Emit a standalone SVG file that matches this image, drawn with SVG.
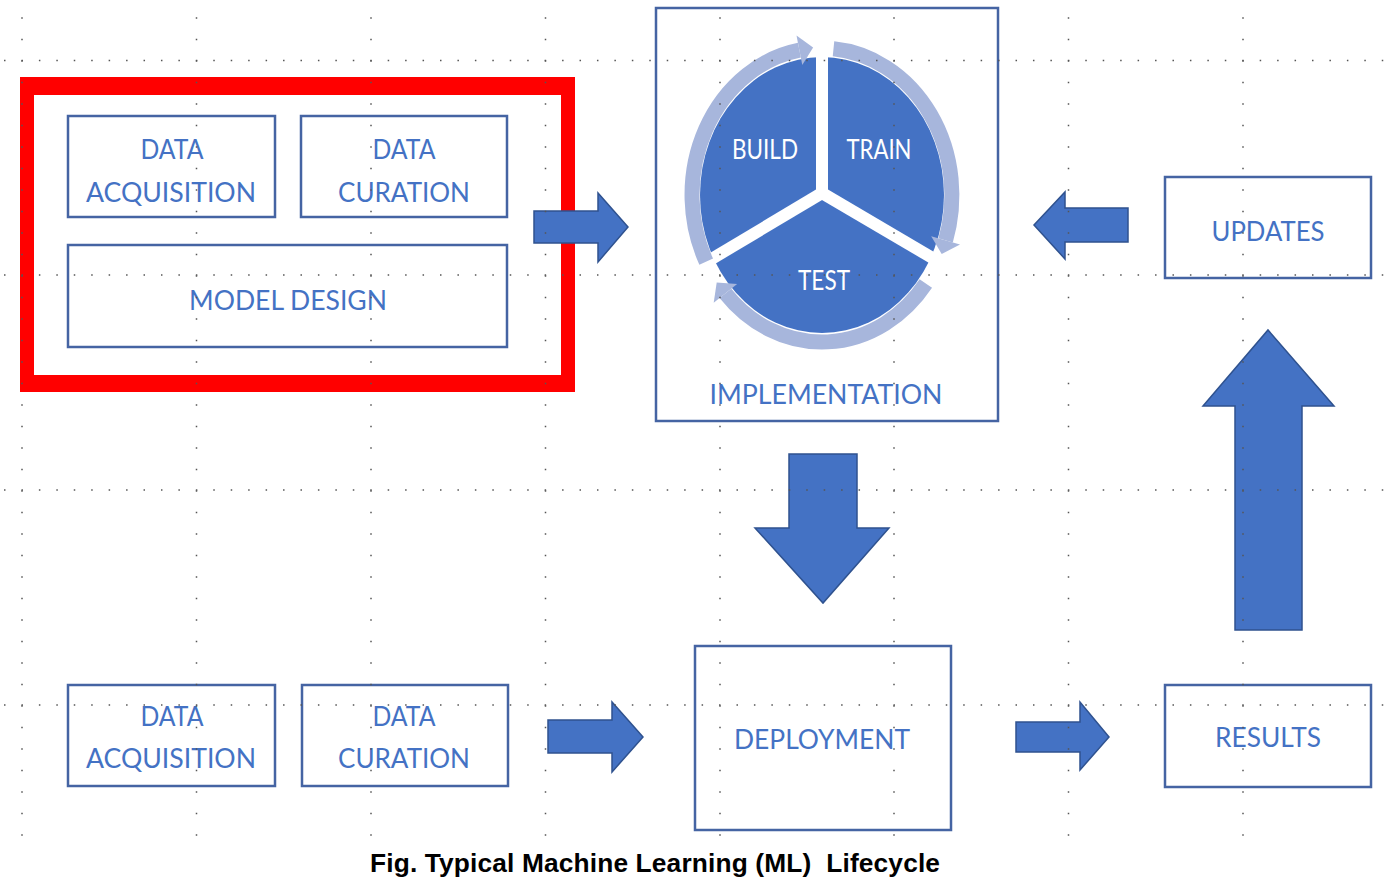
<svg xmlns="http://www.w3.org/2000/svg" width="1386" height="885" viewBox="0 0 1386 885">
<defs>
<style>
.box{fill:none;stroke:#4564a3;stroke-width:2.5}
.lbl{font-family:Lato,"Open Sans",sans-serif;font-size:27px;fill:#4472c4;text-anchor:middle}
.wl{font-family:Lato,"Open Sans",sans-serif;font-size:27px;fill:#ffffff;text-anchor:middle}
.blk{fill:#4472c4;stroke:#2f528f;stroke-width:1.5;stroke-linejoin:miter}
.ring{fill:none;stroke:#a7b6dc;stroke-width:15}
.ringhead{fill:#a7b6dc}
.gv{stroke:#555;stroke-width:1.5;stroke-dasharray:1.5 20}
.gh{stroke:#555;stroke-width:1.5;stroke-dasharray:1.5 15.94}
</style>
</defs>
<rect width="1386" height="885" fill="#ffffff"/>

<g id="highlight">
<path d="M20,77 H575 V392 H20 Z M34,95 V375 H561 V95 Z" fill="#ff0000" fill-rule="evenodd"/>
</g>

<g id="data-acquisition-top">
<rect class="box" x="68" y="116" width="207" height="101"/>
<text class="lbl" x="172" y="159" textLength="63" lengthAdjust="spacingAndGlyphs">DATA</text>
<text class="lbl" x="171" y="202" textLength="170" lengthAdjust="spacingAndGlyphs">ACQUISITION</text>
</g>
<g id="data-curation-top">
<rect class="box" x="301" y="116" width="206" height="101"/>
<text class="lbl" x="404" y="159" textLength="63" lengthAdjust="spacingAndGlyphs">DATA</text>
<text class="lbl" x="404" y="202" textLength="132" lengthAdjust="spacingAndGlyphs">CURATION</text>
</g>
<g id="model-design">
<rect class="box" x="68" y="245" width="439" height="102"/>
<text class="lbl" x="288" y="310" textLength="198" lengthAdjust="spacingAndGlyphs">MODEL DESIGN</text>
</g>

<g id="implementation">
<rect class="box" x="656" y="8" width="342" height="413"/>
<ellipse cx="822" cy="195" rx="122" ry="138" fill="#4472c4"/>
<g stroke="#ffffff" stroke-width="12" stroke-linecap="butt">
<line x1="822" y1="193" x2="822" y2="25"/>
<line x1="822" y1="193" x2="975" y2="283"/>
<line x1="822" y1="193" x2="668" y2="285"/>
</g>
<path class="ring" d="M706.2,261.7 A130,147 0 0,1 799.4,50.2"/>
<polygon class="ringhead" points="796.5,35.5 813.1,47.5 802.3,64.9"/>
<path class="ring" d="M833.5,48.8 A130,147 0 0,1 945.6,240.4"/>
<polygon class="ringhead" points="960.0,244.5 941.7,253.9 931.2,236.3"/>
<path class="ring" d="M925.8,283.5 A130,147 0 0,1 725.4,293.4"/>
<polygon class="ringhead" points="713.7,302.7 716.7,282.5 737.1,284.1"/>
<text class="wl" x="765" y="159" textLength="66" lengthAdjust="spacingAndGlyphs">BUILD</text>
<text class="wl" x="879" y="159" textLength="65" lengthAdjust="spacingAndGlyphs">TRAIN</text>
<text class="wl" x="824" y="290" textLength="52" lengthAdjust="spacingAndGlyphs">TEST</text>
<text class="lbl" x="826" y="404" textLength="233" lengthAdjust="spacingAndGlyphs">IMPLEMENTATION</text>
</g>

<g id="updates">
<rect class="box" x="1165" y="177" width="206" height="101"/>
<text class="lbl" x="1268" y="241" textLength="113" lengthAdjust="spacingAndGlyphs">UPDATES</text>
</g>

<g id="data-acquisition-bottom">
<rect class="box" x="68" y="685" width="207" height="101"/>
<text class="lbl" x="172" y="726" textLength="63" lengthAdjust="spacingAndGlyphs">DATA</text>
<text class="lbl" x="171" y="768" textLength="170" lengthAdjust="spacingAndGlyphs">ACQUISITION</text>
</g>
<g id="data-curation-bottom">
<rect class="box" x="302" y="685" width="206" height="101"/>
<text class="lbl" x="404" y="726" textLength="63" lengthAdjust="spacingAndGlyphs">DATA</text>
<text class="lbl" x="404" y="768" textLength="132" lengthAdjust="spacingAndGlyphs">CURATION</text>
</g>
<g id="deployment">
<rect class="box" x="695" y="646" width="256" height="184"/>
<text class="lbl" x="822" y="749" textLength="176" lengthAdjust="spacingAndGlyphs">DEPLOYMENT</text>
</g>
<g id="results">
<rect class="box" x="1165" y="685" width="206" height="102"/>
<text class="lbl" x="1268" y="747" textLength="106" lengthAdjust="spacingAndGlyphs">RESULTS</text>
</g>

<g id="connectors">
<polygon class="blk" points="534,211 598,211 598,193 628,227 598,262 598,243 534,243"/>
<polygon class="blk" points="1128,208 1065,208 1065,192 1034,225 1065,259 1065,242 1128,242"/>
<polygon class="blk" points="789,454 857,454 857,528 889,528 823,603 755,528 789,528"/>
<polygon class="blk" points="1235,630 1235,406 1203,406 1268,330 1334,406 1302,406 1302,630"/>
<polygon class="blk" points="548,720 612,720 612,702 643,737 612,772 612,753 548,753"/>
<polygon class="blk" points="1016,722 1080,722 1080,702 1109,737 1080,770 1080,752 1016,752"/>
</g>

<g id="grid">
<line class="gv" x1="22" y1="17.3" x2="22" y2="837"/>
<line class="gv" x1="196.5" y1="17.3" x2="196.5" y2="837"/>
<line class="gv" x1="371" y1="17.3" x2="371" y2="837"/>
<line class="gv" x1="545.5" y1="17.3" x2="545.5" y2="837"/>
<line class="gv" x1="720" y1="17.3" x2="720" y2="837"/>
<line class="gv" x1="894" y1="17.3" x2="894" y2="837"/>
<line class="gv" x1="1068.5" y1="17.3" x2="1068.5" y2="837"/>
<line class="gv" x1="1243" y1="17.3" x2="1243" y2="837"/>
<line class="gh" x1="4" y1="60.5" x2="1386" y2="60.5"/>
<line class="gh" x1="4" y1="275" x2="1386" y2="275"/>
<line class="gh" x1="4" y1="490" x2="1386" y2="490"/>
<line class="gh" x1="4" y1="705" x2="1386" y2="705"/>
</g>

<g id="caption">
<text x="655" y="872" font-family="'Liberation Sans',Arial,sans-serif" font-weight="bold" font-size="26.3" text-anchor="middle" fill="#000000" style="white-space:pre" textLength="570">Fig. Typical Machine Learning (ML)  Lifecycle</text>
</g>
</svg>
